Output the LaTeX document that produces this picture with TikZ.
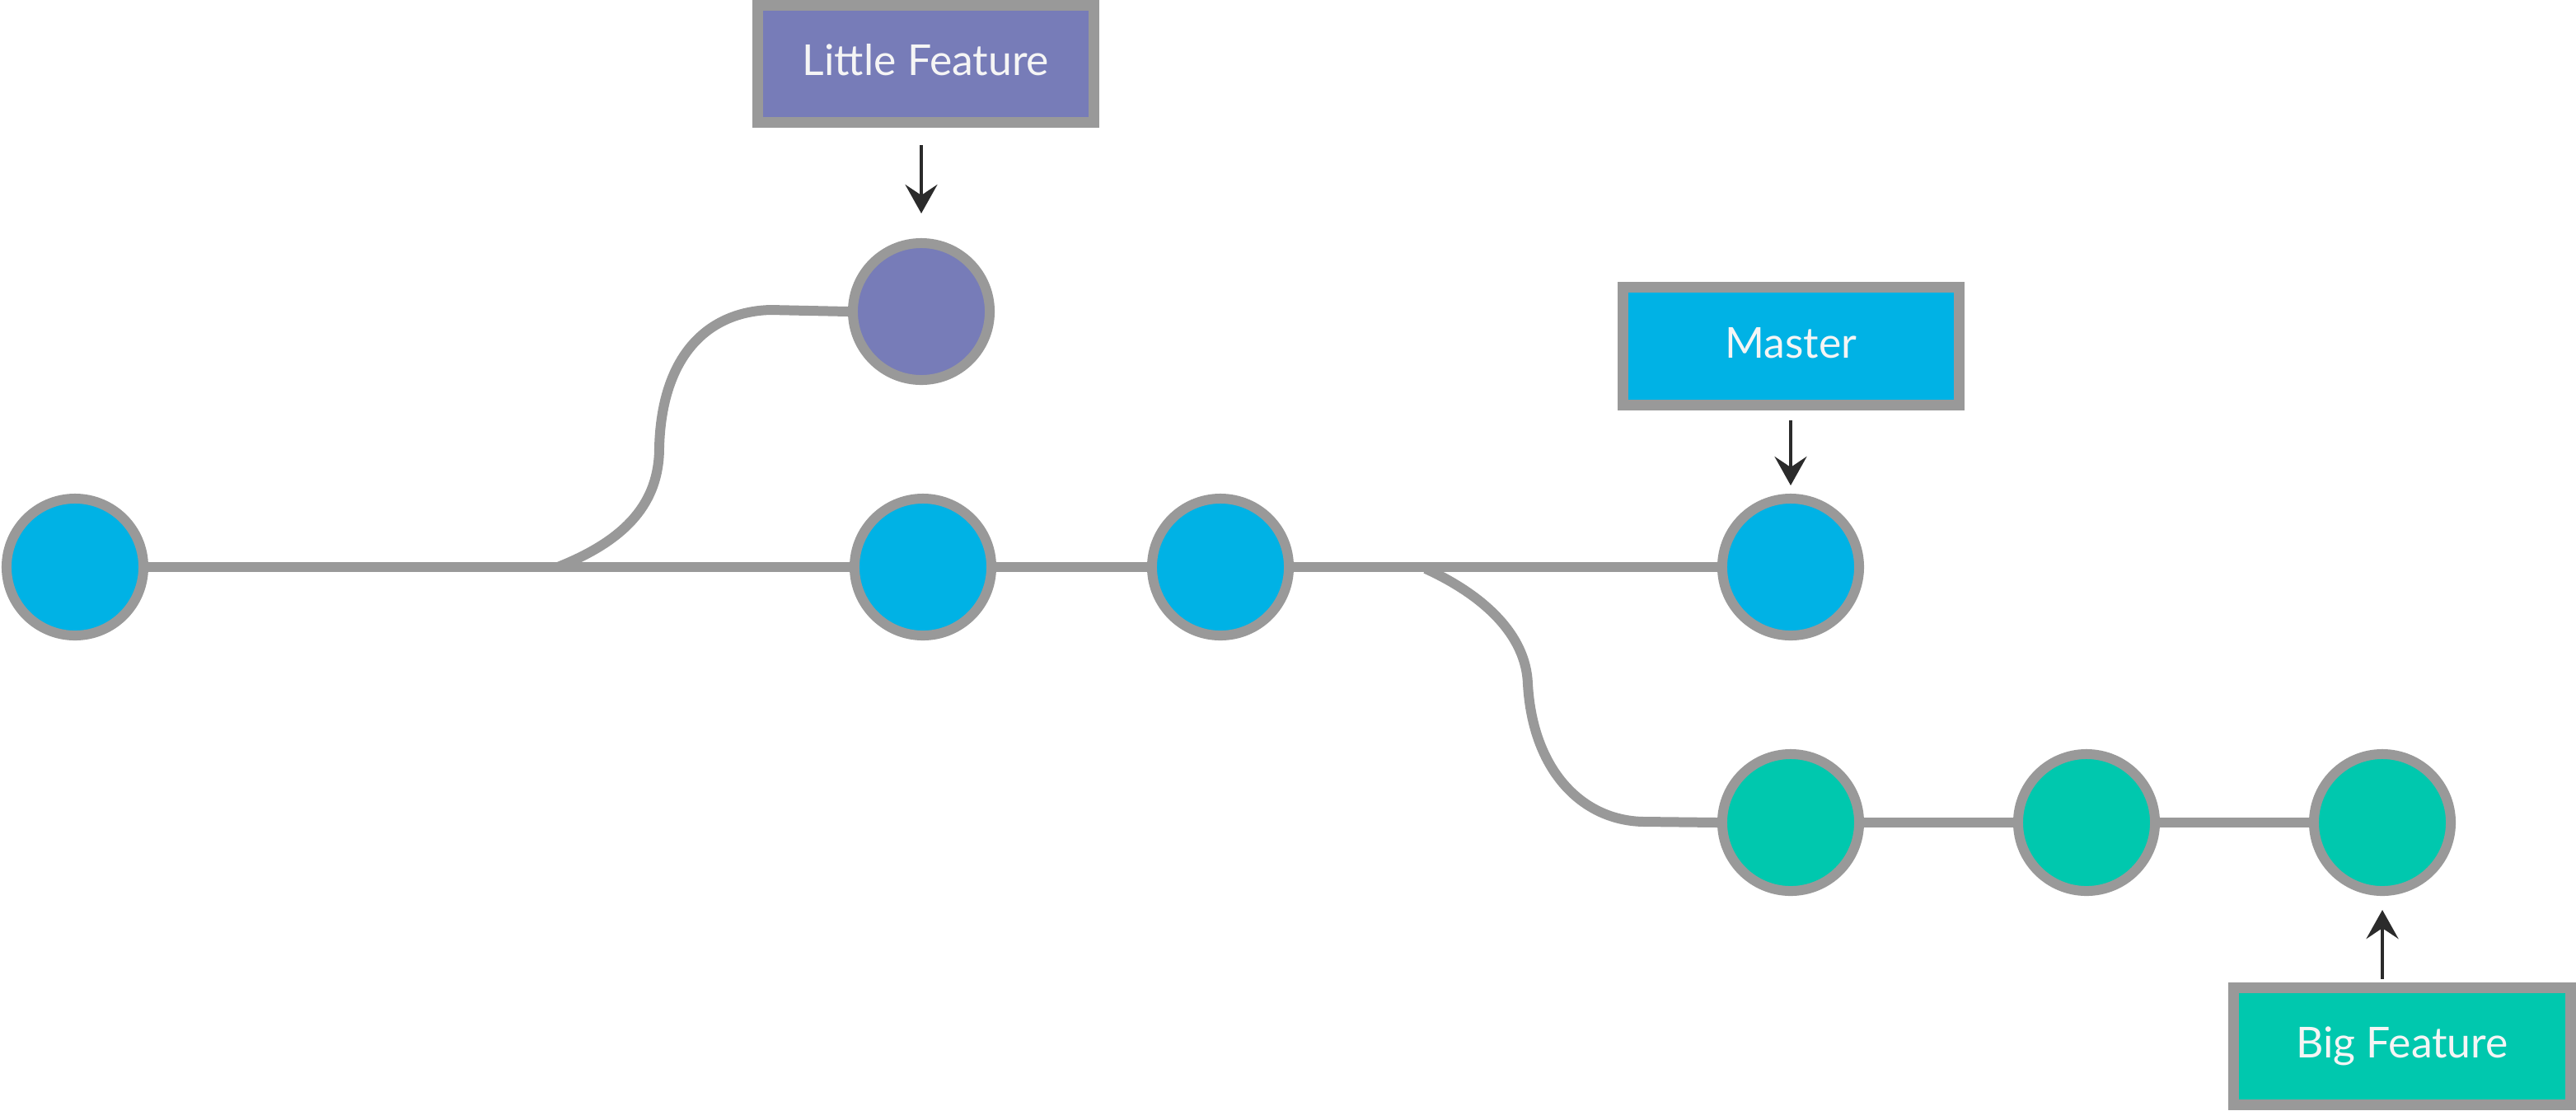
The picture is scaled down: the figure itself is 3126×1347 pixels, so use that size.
\documentclass[tikz,border=0pt]{standalone}
\usepackage{fontspec}
\setmainfont{Lato}
\usetikzlibrary{arrows.meta,backgrounds}
\definecolor{cgray}{HTML}{999999}
\definecolor{cblue}{HTML}{00B2E5}
\definecolor{cpurple}{HTML}{777CB8}
\definecolor{cgreen}{HTML}{00C8AE}
\definecolor{carrow}{HTML}{2B2B2B}
\definecolor{ctext}{HTML}{F5F5F5}
\begin{document}
\begin{tikzpicture}[x=0.01cm,y=-0.01cm,
  commit/.style={circle,draw=cgray,line width=3.41pt,minimum size=1.66cm,inner sep=0pt},
  tagbox/.style={draw=cgray,line width=3.7pt,minimum width=4.08cm,minimum height=1.42cm,
    inner sep=0pt,text=ctext,font=\fontsize{14.7}{17}\selectfont,text height=0.8em,text depth=0pt},
  branch/.style={draw=cgray,line width=3.41pt},
  pointer/.style={draw=carrow,line width=1.14pt,-{Stealth[length=0.35cm,width=0.39cm,inset=0.13cm]}}]
\useasboundingbox (0,0) rectangle (3126,1347);
% commits
\node[commit,fill=cblue] (m1) at (91,688) {};
\node[commit,fill=cblue] (m2) at (1120,688) {};
\node[commit,fill=cblue] (m3) at (1481,688) {};
\node[commit,fill=cblue] (m4) at (2173,688) {};
\node[commit,fill=cpurple] (p1) at (1118,378) {};
\node[commit,fill=cgreen] (g1) at (2173,998) {};
\node[commit,fill=cgreen] (g2) at (2532,998) {};
\node[commit,fill=cgreen] (g3) at (2891,998) {};
% labels
\node[tagbox,fill=cpurple] (lf) at (1123.5,77.5) {Little Feature};
\node[tagbox,fill=cblue] (ms) at (2173.5,420) {Master};
\node[tagbox,fill=cgreen] (bf) at (2915,1269.5) {Big Feature};
% connectors
\begin{scope}[on background layer]
\draw[branch] (m1) -- (m2) -- (m3) -- (m4);
\draw[branch] (g1) -- (g2) -- (g3);
\coordinate (s1) at (677,688);
\draw[branch] (s1) .. controls (760,655) and (800,610) .. (800,543)
  .. controls (803,430) and (860,378) .. (935,376) -- (p1.west);
\coordinate (s2) at (1730,690);
\draw[branch] (s2) .. controls (1800,722) and (1852,770) .. (1854,830)
  .. controls (1860,935) and (1920,996) .. (1995,997) -- (g1.west);
\end{scope}
% pointers
\draw[pointer,shorten <=0.21cm,shorten >=0.30cm] (lf.south -| p1) -- (p1.north);
\draw[pointer,shorten <=0.12cm,shorten >=0.10cm] (ms.south -| m4) -- (m4.north);
\draw[pointer,shorten <=0.04cm,shorten >=0.17cm] (bf.north -| g3) -- (g3.south);
\end{tikzpicture}
\end{document}
